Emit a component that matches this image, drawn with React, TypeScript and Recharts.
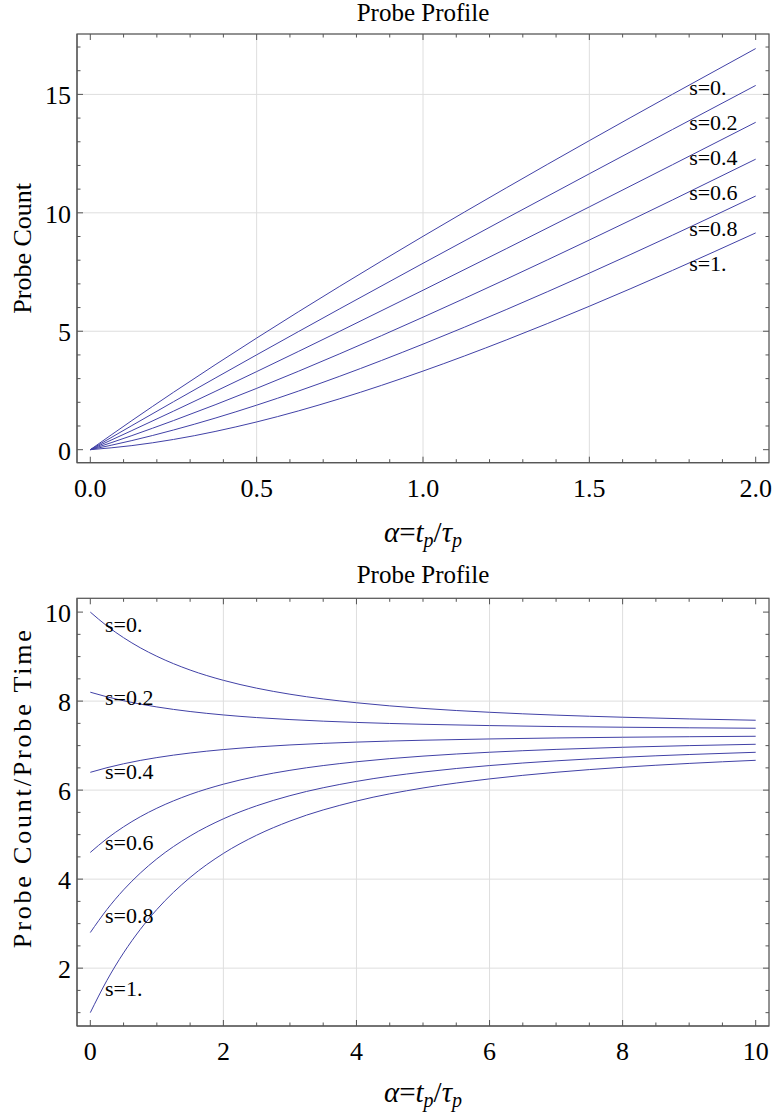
import React from 'react';
import { LineChart, Line, XAxis, YAxis, CartesianGrid, ReferenceDot } from 'recharts';

const FONT = '"Liberation Serif", "Times New Roman", serif';
const LINE_COLOR = '#4141a6';
const FRAME_COLOR = '#555555';
const GRID_COLOR = '#dedede';
const PLOT_LEFT = 77;
const PLOT_RIGHT = 769;

const seriesKeys = ['s0', 's02', 's04', 's06', 's08', 's1'];
const seriesNames = ['s=0.', 's=0.2', 's=0.4', 's=0.6', 's=0.8', 's=1.'];

// probe count vs alpha (top panel)
const countAlpha = [0, 0.125, 0.25, 0.5, 0.75, 1, 1.25, 1.5, 1.75, 2];
const countS0 = [0, 1.23, 2.422, 4.712, 6.9, 9.007, 11.051, 13.048, 15.006, 16.935];
const countS02 = [0, 1.018, 2.024, 4.004, 5.95, 7.869, 9.767, 11.649, 13.519, 15.378];
const countS04 = [0, 0.807, 1.626, 3.296, 5.0, 6.731, 8.483, 10.251, 12.031, 13.822];
const countS06 = [0, 0.595, 1.228, 2.588, 4.05, 5.593, 7.199, 8.852, 10.544, 12.265];
const countS08 = [0, 0.384, 0.83, 1.879, 3.101, 4.456, 5.914, 7.454, 9.057, 10.709];
const countS1 = [0, 0.172, 0.431, 1.171, 2.151, 3.318, 4.63, 6.056, 7.57, 9.152];

// probe count / probe time vs alpha (bottom panel)
const rateAlpha = [0, 0.25, 0.5, 0.75, 1, 1.5, 2, 2.5, 3, 4, 5, 6, 7, 8, 9, 10];
const rateS0 = [10, 9.689, 9.425, 9.199, 9.007, 8.698, 8.467, 8.291, 8.155, 7.963, 7.836, 7.749, 7.685, 7.638, 7.6, 7.57];
const rateS02 = [8.2, 8.096, 8.008, 7.933, 7.869, 7.766, 7.689, 7.63, 7.585, 7.521, 7.479, 7.45, 7.428, 7.413, 7.4, 7.39];
const rateS04 = [6.4, 6.504, 6.592, 6.667, 6.731, 6.834, 6.911, 6.97, 7.015, 7.079, 7.121, 7.15, 7.172, 7.188, 7.2, 7.21];
const rateS06 = [4.6, 4.911, 5.175, 5.401, 5.593, 5.902, 6.133, 6.309, 6.445, 6.637, 6.764, 6.851, 6.915, 6.963, 7.0, 7.03];
const rateS08 = [2.8, 3.318, 3.759, 4.134, 4.456, 4.969, 5.355, 5.648, 5.875, 6.196, 6.406, 6.552, 6.658, 6.738, 6.8, 6.85];
const rateS1 = [1.0, 1.726, 2.343, 2.868, 3.318, 4.037, 4.577, 4.987, 5.305, 5.754, 6.048, 6.252, 6.401, 6.513, 6.6, 6.67];

// where the s= labels sit
const countLabelX = 1.8;
const countLabelY = [15.26, 13.78, 12.31, 10.83, 9.31, 7.82];
const rateLabelX = 0.22;
const rateLabelY = [9.7, 8.07, 6.41, 4.81, 3.17, 1.53];

// ticks
const countXTicks = [0, 0.1, 0.2, 0.3, 0.4, 0.5, 0.6, 0.7, 0.8, 0.9, 1, 1.1, 1.2, 1.3, 1.4, 1.5, 1.6, 1.7, 1.8, 1.9, 2];
const countXMajor = [0, 0.5, 1, 1.5, 2];
const countXGrid = [0.5, 1, 1.5];
const countYTicks = [0, 1, 2, 3, 4, 5, 6, 7, 8, 9, 10, 11, 12, 13, 14, 15, 16, 17];
const countYMajor = [0, 5, 10, 15];
const countYGrid = [5, 10, 15];

const rateXTicks = [0, 0.5, 1, 1.5, 2, 2.5, 3, 3.5, 4, 4.5, 5, 5.5, 6, 6.5, 7, 7.5, 8, 8.5, 9, 9.5, 10];
const rateXMajor = [0, 2, 4, 6, 8, 10];
const rateXGrid = [2, 4, 6, 8];
const rateYTicks = [1, 1.5, 2, 2.5, 3, 3.5, 4, 4.5, 5, 5.5, 6, 6.5, 7, 7.5, 8, 8.5, 9, 9.5, 10];
const rateYMajor = [2, 4, 6, 8, 10];
const rateYGrid = [2, 4, 6, 8];

function buildRows(alpha: number[], cols: number[][]) {
  return alpha.map((a, i) => {
    const row: Record<string, number> = { a };
    seriesKeys.forEach((k, j) => {
      row[k] = cols[j][i];
    });
    return row;
  });
}

const countData = buildRows(countAlpha, [countS0, countS02, countS04, countS06, countS08, countS1]);
const rateData = buildRows(rateAlpha, [rateS0, rateS02, rateS04, rateS06, rateS08, rateS1]);

interface PanelProps {
  data: Record<string, number>[];
  xDomain: [number, number];
  yDomain: [number, number];
  xTicks: number[];
  xMajor: number[];
  xGrid: number[];
  yTicks: number[];
  yMajor: number[];
  yGrid: number[];
  xFormat: (v: number) => string;
  yLabel: string;
  yLabelLength?: number;
  yLabelShift: number;
  labelX: number;
  labelY: number[];
  height: number;
  plotTop: number;
  plotBottom: number;
  titleGap: number;
  xLabelGap: number;
}

const isMajor = (list: number[], v: number) => list.some((m) => Math.abs(m - v) < 1e-9);

// grid axes need a tick renderer (tick={false} drops the grid lines too)
const emptyTick = () => <g />;

function ProfilePanel(p: PanelProps) {
  const renderXTick = (props: any) => {
    const { x, payload } = props;
    const major = isMajor(p.xMajor, payload.value);
    const len = major ? 6 : 3.5;
    return (
      <g>
        <line x1={x} x2={x} y1={p.plotBottom} y2={p.plotBottom - len} stroke={FRAME_COLOR} />
        <line x1={x} x2={x} y1={p.plotTop} y2={p.plotTop + len} stroke={FRAME_COLOR} />
        {major && (
          <text x={x} y={p.plotBottom + 34} textAnchor="middle" fontFamily={FONT} fontSize={26} fill="#000">
            {p.xFormat(payload.value)}
          </text>
        )}
      </g>
    );
  };

  const renderYTick = (props: any) => {
    const { y, payload } = props;
    const major = isMajor(p.yMajor, payload.value);
    const len = major ? 6 : 3.5;
    return (
      <g>
        <line x1={PLOT_LEFT} x2={PLOT_LEFT + len} y1={y} y2={y} stroke={FRAME_COLOR} />
        <line x1={PLOT_RIGHT} x2={PLOT_RIGHT - len} y1={y} y2={y} stroke={FRAME_COLOR} />
        {major && (
          <text x={PLOT_LEFT - 6} y={y + 10} textAnchor="end" fontFamily={FONT} fontSize={26} fill="#000">
            {String(payload.value)}
          </text>
        )}
      </g>
    );
  };

  const centerX = (PLOT_LEFT + PLOT_RIGHT) / 2;
  const centerY = (p.plotTop + p.plotBottom) / 2 + p.yLabelShift;

  // frame, title and x label come from the bottom axis label slot
  const renderXLabel = () => (
    <g>
      <rect
        x={PLOT_LEFT}
        y={p.plotTop}
        width={PLOT_RIGHT - PLOT_LEFT}
        height={p.plotBottom - p.plotTop}
        fill="none"
        stroke={FRAME_COLOR}
        strokeWidth={1.2}
      />
      <text x={centerX} y={p.plotTop - p.titleGap} textAnchor="middle" fontFamily={FONT} fontSize={25} fill="#000">
        Probe Profile
      </text>
      <text x={centerX} y={p.plotBottom + p.xLabelGap} textAnchor="middle" fontFamily={FONT} fontSize={29} fill="#000">
        <tspan fontStyle="italic">α</tspan>
        <tspan>=</tspan>
        <tspan fontStyle="italic">t</tspan>
        <tspan fontStyle="italic" fontSize={20} dy={5}>p</tspan>
        <tspan dy={-5}>/</tspan>
        <tspan fontStyle="italic">τ</tspan>
        <tspan fontStyle="italic" fontSize={20} dy={5}>p</tspan>
      </text>
    </g>
  );

  const renderYLabel = () => (
    <text
      x={31.5}
      y={centerY}
      transform={`rotate(-90, 31.5, ${centerY})`}
      textAnchor="middle"
      fontFamily={FONT}
      fontSize={26}
      fill="#000"
      textLength={p.yLabelLength}
      lengthAdjust="spacing"
    >
      {p.yLabel}
    </text>
  );

  return (
    <LineChart
      width={774}
      height={p.height}
      data={p.data}
      margin={{ top: p.plotTop - 1, right: 774 - PLOT_RIGHT - 1, bottom: 0, left: 0 }}
    >
      <CartesianGrid xAxisId="top" yAxisId="right" stroke={GRID_COLOR} fill="none" />
      <XAxis
        xAxisId="bottom"
        dataKey="a"
        type="number"
        domain={p.xDomain}
        ticks={p.xTicks}
        interval={0}
        allowDataOverflow
        height={p.height - p.plotBottom}
        stroke={FRAME_COLOR}
        tickLine={false}
        tickSize={0}
        tick={renderXTick}
        label={renderXLabel}
      />
      <XAxis
        xAxisId="top"
        orientation="top"
        dataKey="a"
        type="number"
        domain={p.xDomain}
        ticks={p.xGrid}
        interval={0}
        allowDataOverflow
        height={1}
        axisLine={false}
        tickLine={false}
        tick={emptyTick}
      />
      <YAxis
        yAxisId="left"
        type="number"
        domain={p.yDomain}
        ticks={p.yTicks}
        interval={0}
        allowDataOverflow
        width={PLOT_LEFT}
        stroke={FRAME_COLOR}
        tickLine={false}
        tickSize={0}
        tick={renderYTick}
        label={renderYLabel}
      />
      <YAxis
        yAxisId="right"
        orientation="right"
        type="number"
        domain={p.yDomain}
        ticks={p.yGrid}
        interval={0}
        allowDataOverflow
        width={1}
        axisLine={false}
        tickLine={false}
        tick={emptyTick}
      />
      {/* invisible copy so the grid axes have a series bound to them */}
      <Line
        xAxisId="top"
        yAxisId="right"
        dataKey={seriesKeys[0]}
        stroke="none"
        dot={false}
        activeDot={false}
        legendType="none"
        isAnimationActive={false}
      />
      {seriesKeys.map((k) => (
        <Line
          key={k}
          xAxisId="bottom"
          yAxisId="left"
          dataKey={k}
          type="monotone"
          stroke={LINE_COLOR}
          strokeWidth={1}
          dot={false}
          isAnimationActive={false}
        />
      ))}
      {seriesNames.map((name, i) => (
        <ReferenceDot
          key={name}
          xAxisId="bottom"
          yAxisId="left"
          x={p.labelX}
          y={p.labelY[i]}
          r={0}
          fill="none"
          stroke="none"
          label={(props: any) => {
            const vb = props.viewBox || {};
            return (
              <text x={vb.x} y={(vb.y ?? 0) + 7} fontFamily={FONT} fontSize={22} fill="#000">
                {name}
              </text>
            );
          }}
        />
      ))}
    </LineChart>
  );
}

export default function App() {
  return (
    <div style={{ position: 'absolute', left: 0, top: 0, width: 774, height: 1119, background: '#fff' }}>
      <ProfilePanel
        data={countData}
        xDomain={[-0.04, 2.04]}
        yDomain={[-0.55, 17.55]}
        xTicks={countXTicks}
        xMajor={countXMajor}
        xGrid={countXGrid}
        yTicks={countYTicks}
        yMajor={countYMajor}
        yGrid={countYGrid}
        xFormat={(v) => v.toFixed(1)}
        yLabel="Probe Count"
        yLabelShift={0}
        labelX={countLabelX}
        labelY={countLabelY}
        height={560}
        plotTop={34}
        plotBottom={462.7}
        titleGap={12.8}
        xLabelGap={79}
      />
      <ProfilePanel
        data={rateData}
        xDomain={[-0.2, 10.2]}
        yDomain={[0.7, 10.31]}
        xTicks={rateXTicks}
        xMajor={rateXMajor}
        xGrid={rateXGrid}
        yTicks={rateYTicks}
        yMajor={rateYMajor}
        yGrid={rateYGrid}
        xFormat={(v) => String(v)}
        yLabel="Probe Count/Probe Time"
        yLabelLength={318}
        yLabelShift={-23}
        labelX={rateLabelX}
        labelY={rateLabelY}
        height={559}
        plotTop={38.3}
        plotBottom={466}
        titleGap={15}
        xLabelGap={76}
      />
    </div>
  );
}
